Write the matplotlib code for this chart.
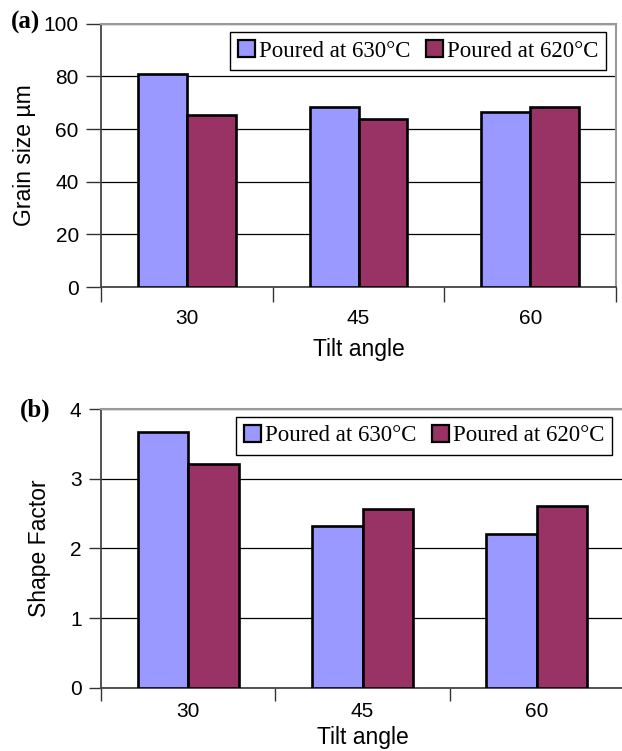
import matplotlib
import numpy as np

matplotlib.use('Agg')
import matplotlib.pyplot as plt

# Values
tilt_angles = ['30', '45', '60']
series_labels = ['Poured at 630°C', 'Poured at 620°C']
grain_630 = [80.9, 68.2, 66.3]
grain_620 = [65.4, 63.7, 68.2]
shape_630 = [3.67, 2.32, 2.21]
shape_620 = [3.21, 2.57, 2.61]

BLUE = '#9999FF'
PLUM = '#993366'
SANS = 'Liberation Sans'
SERIF = 'Liberation Serif'

fig = plt.figure(figsize=(6.22, 7.51), dpi=100)


def draw_panel(ax, vals_a, vals_b, ylim, yticks, ylabel, bar_w, tick_len, tick_pad,
               ylab_x, xlab_y, leg_anchor):
    x = np.arange(len(tilt_angles))
    ax.bar(x - bar_w / 2, vals_a, width=bar_w, color=BLUE, edgecolor='black',
           linewidth=1.9, label=series_labels[0], zorder=3)
    ax.bar(x + bar_w / 2, vals_b, width=bar_w, color=PLUM, edgecolor='black',
           linewidth=1.9, label=series_labels[1], zorder=3)

    ax.set_xlim(-0.5, len(tilt_angles) - 0.5)
    ax.set_ylim(*ylim)
    ax.set_yticks(yticks)

    # category labels centred, tick marks on the category boundaries
    ax.set_xticks(x)
    ax.set_xticklabels(tilt_angles, fontsize=15, family=SANS)
    ax.set_xticks(np.arange(len(tilt_angles) + 1) - 0.5, minor=True)
    ax.tick_params(axis='x', which='major', length=0, pad=tick_pad + tick_len)
    ax.tick_params(axis='x', which='minor', length=tick_len, width=1, color='#333')
    ax.tick_params(axis='y', length=tick_len, width=1, color='#333', pad=5)
    for lab in ax.get_yticklabels():
        lab.set_fontsize(15)
        lab.set_family(SANS)

    ax.grid(axis='y', color='black', linewidth=0.9, zorder=0)
    ax.set_axisbelow(True)
    for side in ('top', 'right'):
        ax.spines[side].set_color('#999999')
        ax.spines[side].set_linewidth(1.5)
    for side in ('left', 'bottom'):
        ax.spines[side].set_color('#444444')
        ax.spines[side].set_linewidth(1.3)

    ax.set_ylabel(ylabel, fontsize=16.5, family=SANS, va='center')
    ax.yaxis.set_label_coords(ylab_x, 0.5)
    ax.set_xlabel('Tilt angle', fontsize=16.5, family=SANS, va='center')
    ax.xaxis.set_label_coords(0.5, xlab_y)

    leg = ax.legend(loc='upper right', bbox_to_anchor=leg_anchor, ncol=2,
                    prop={'family': SERIF, 'size': 16.5}, frameon=True, fancybox=False,
                    shadow=False, framealpha=1, edgecolor='black',
                    handlelength=0.75, handleheight=0.75, handletextpad=0.15,
                    columnspacing=0.7, borderpad=0.35, borderaxespad=0)
    leg.get_frame().set_linewidth(1.0)
    leg.set_zorder(5)
    for h in leg.legend_handles:
        h.set_linewidth(1.6)


ax_a = fig.add_axes([0.1624, 0.6178, 0.828, 0.3506])
draw_panel(ax_a, grain_630, grain_620, (0, 100), [0, 20, 40, 60, 80, 100],
           'Grain size µm', 0.285, 11, 5, -0.148, -0.239, (0.981, 0.968))

ax_b = fig.add_axes([0.1624, 0.0843, 0.841, 0.3707])
draw_panel(ax_b, shape_630, shape_620, (0, 4), [0, 1, 2, 3, 4],
           'Shape Factor', 0.29, 9, 1.5, -0.118, -0.18, (0.977, 0.972))

fig.text(11 / 622, 1 - 22 / 751, '(a)', fontsize=18, fontweight='bold', family=SERIF,
         ha='left', va='center')
fig.text(20 / 622, 1 - 410 / 751, '(b)', fontsize=18, fontweight='bold', family=SERIF,
         ha='left', va='center')

plt.savefig('out.png', dpi=100)
plt.close()
